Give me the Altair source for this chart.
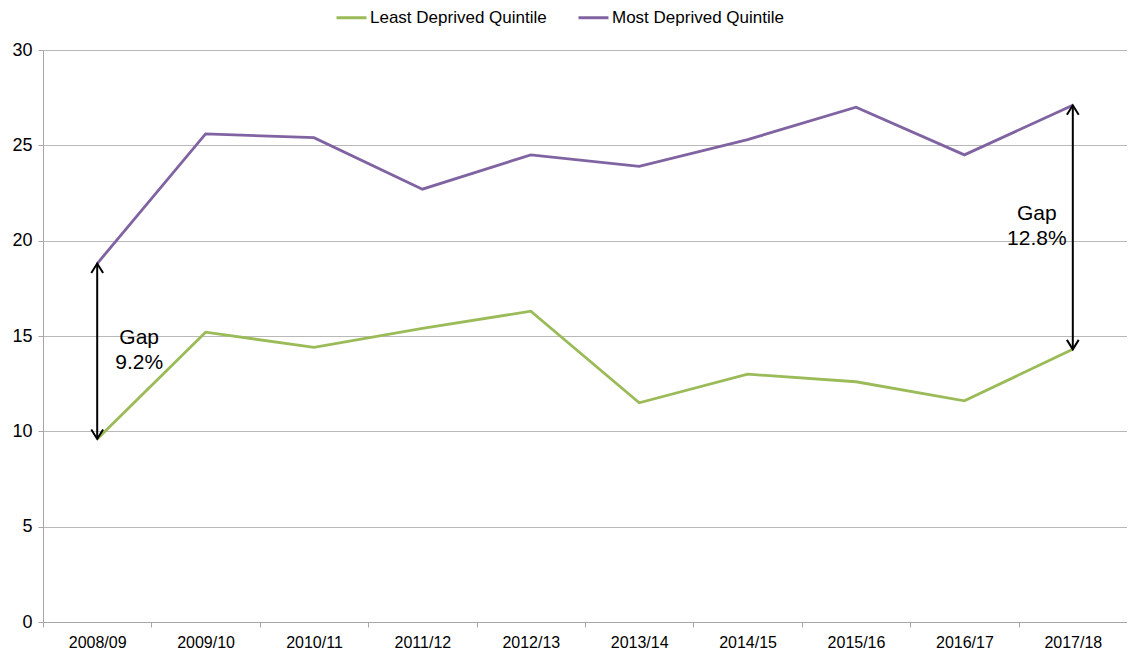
import altair as alt
import pandas as pd

years = ["2008/09", "2009/10", "2010/11", "2011/12", "2012/13",
         "2013/14", "2014/15", "2015/16", "2016/17", "2017/18"]
least = [9.6, 15.2, 14.4, 15.4, 16.3, 11.5, 13.0, 12.6, 11.6, 14.3]
most = [18.8, 25.6, 25.4, 22.7, 24.5, 23.9, 25.3, 27.0, 24.5, 27.1]
series_names = ["Least Deprived Quintile", "Most Deprived Quintile"]
series_colors = ["#9BBB59", "#8064A2"]
y_ticks = [0, 5, 10, 15, 20, 25, 30]
gap_years = ["2008/09", "2017/18"]

rows = []
for i, yr in enumerate(years):
    rows.append({"year": yr, "series": series_names[0], "value": least[i]})
    rows.append({"year": yr, "series": series_names[1], "value": most[i]})
df = pd.DataFrame(rows)

gap_rows = []
for g in gap_years:
    i = years.index(g)
    top, bot = most[i], least[i]
    gap_rows.append({"year": g, "top": top, "bottom": bot,
                     "mid": (top + bot) / 2,
                     "label": f"Gap\n{top - bot:.1f}%"})
gaps = pd.DataFrame(gap_rows)

W, H = 1084, 572
step = W / len(years)

xscale = alt.Scale(type="point", padding=0.5, domain=years)
yscale = alt.Scale(domain=[0, 30], nice=False)

x_axis = alt.Axis(title=None, labelAngle=0, labelFontSize=16, labelColor="#000000",
                  tickColor="#a6a6a6", tickSize=5, tickOffset=-step / 2,
                  labelOffset=step / 2, labelPadding=7, domainColor="#a6a6a6",
                  grid=False)
y_axis = alt.Axis(title=None, values=y_ticks, labelFontSize=18, labelColor="#000000",
                  tickColor="#a6a6a6", tickSize=5, labelPadding=6,
                  domainColor="#a6a6a6", gridColor="#b8b8b8", grid=True)


def X():
    return alt.X("year:N", sort=years, scale=xscale, axis=x_axis)


def Y(field):
    return alt.Y(field, scale=yscale, axis=y_axis)


lines = alt.Chart(df).mark_line(strokeWidth=2.8).encode(
    x=X(),
    y=Y("value:Q"),
    color=alt.Color("series:N",
                    scale=alt.Scale(domain=series_names, range=series_colors),
                    legend=alt.Legend(title=None, orient="none", direction="horizontal",
                                      legendX=292, legendY=-49,
                                      labelFontSize=17, labelColor="#000000",
                                      labelLimit=400,
                                      symbolType="stroke", symbolSize=900,
                                      symbolStrokeWidth=3, labelOffset=2,
                                      columnPadding=25, padding=0)),
)

base = alt.Chart(gaps).encode(x=X())

rule = base.mark_rule(color="#000000", strokeWidth=2).encode(
    y=Y("top:Q"), y2="bottom:Q")

head_up = base.mark_point(shape="M-1,1.6L0,0L1,1.6", filled=False, size=140,
                          color="#000000", strokeWidth=2, opacity=1).encode(
    y=Y("top:Q"))
head_down = base.mark_point(shape="M-1,-1.6L0,0L1,-1.6", filled=False, size=140,
                            color="#000000", strokeWidth=2, opacity=1).encode(
    y=Y("bottom:Q"))

text_left = alt.Chart(gaps[gaps["year"] == gap_years[0]]).mark_text(
    lineBreak="\n", fontSize=21, dx=42, dy=-13, color="#000000", lineHeight=25).encode(
    x=X(), y=Y("mid:Q"), text="label:N")
text_right = alt.Chart(gaps[gaps["year"] == gap_years[1]]).mark_text(
    lineBreak="\n", fontSize=21, dx=-36, dy=-13, color="#000000", lineHeight=25).encode(
    x=X(), y=Y("mid:Q"), text="label:N")

chart = alt.layer(lines, rule, head_up, head_down, text_left, text_right).properties(
    width=W, height=H,
    autosize=alt.AutoSizeParams(type="none"),
    padding={"left": 35, "top": 42, "right": 0, "bottom": 29},
).configure(font="Liberation Sans").configure_view(stroke=None)

chart.save("out.html", embed_options={"renderer": "svg", "actions": False})
